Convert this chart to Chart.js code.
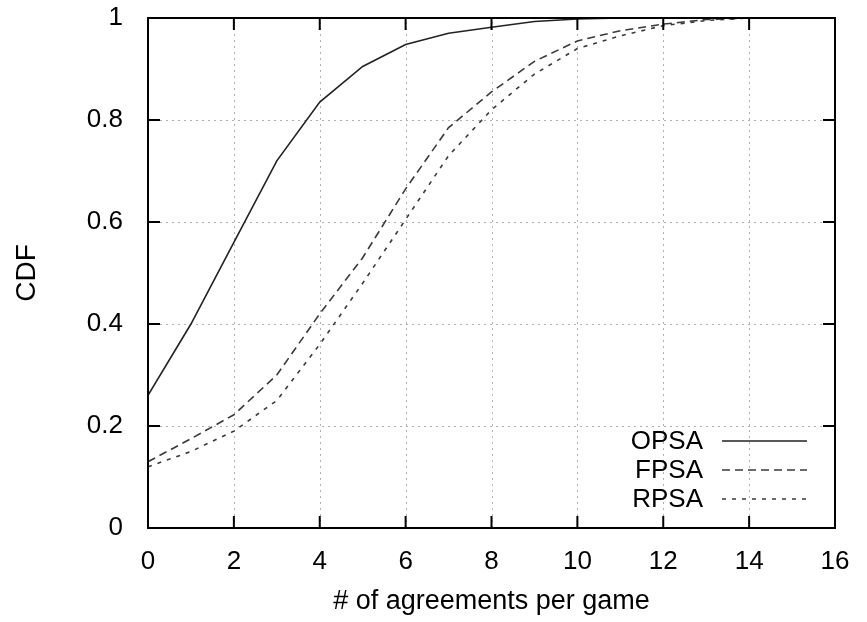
<!DOCTYPE html>
<html>
<head>
<meta charset="utf-8">
<script src="https://cdn.jsdelivr.net/npm/chart.js@4/dist/chart.umd.min.js"></script>
<style>
  html, body { margin: 0; padding: 0; background: #fff; }
  #wrap { width: 867px; height: 622px; }
</style>
</head>
<body>
<div id="wrap"><canvas id="c" width="867" height="622"></canvas></div>
<script>
const agreements = [0, 1, 2, 3, 4, 5, 6, 7, 8, 9, 10, 11, 12, 13, 14, 15, 16];
const opsa = [0.26, 0.40, 0.56, 0.72, 0.835, 0.905, 0.948, 0.970, 0.982, 0.993, 0.998, 1, 1, 1, 1, 1, 1];
const fpsa = [0.13, 0.175, 0.222, 0.30, 0.42, 0.53, 0.665, 0.785, 0.855, 0.915, 0.955, 0.975, 0.988, 0.997, 1, 1, 1];
const rpsa = [0.12, 0.15, 0.19, 0.25, 0.36, 0.48, 0.605, 0.73, 0.82, 0.89, 0.94, 0.965, 0.985, 0.995, 1, 1, 1];
const seriesNames = ['OPSA', 'FPSA', 'RPSA'];
const xTickValues = [0, 2, 4, 6, 8, 10, 12, 14, 16];
const xTickLabels = ['0', '2', '4', '6', '8', '10', '12', '14', '16'];
const yTickValues = [0, 0.2, 0.4, 0.6, 0.8, 1];
const yTickLabels = ['0', '0.2', '0.4', '0.6', '0.8', '1'];
const xTitle = '# of agreements per game';
const yTitle = 'CDF';

const FONT = "'Liberation Sans', Arial, Helvetica, sans-serif";
const toPts = arr => agreements.map((x, i) => ({ x: x, y: arr[i] }));

const styles = [
  { color: '#222222', dash: [] },
  { color: '#3a3a3a', dash: [8, 5] },
  { color: '#3a3a3a', dash: [4, 6] }
];

const dottedGrid = {
  id: 'dottedGrid',
  beforeDatasetsDraw(chart) {
    const { ctx, chartArea: a, scales } = chart;
    ctx.save();
    ctx.strokeStyle = '#b0b0b0';
    ctx.lineWidth = 1;
    ctx.setLineDash([2, 4]);
    ctx.beginPath();
    xTickValues.forEach(v => {
      const px = Math.round(scales.x.getPixelForValue(v)) + 0.5;
      ctx.moveTo(px, a.bottom); ctx.lineTo(px, a.top);
    });
    yTickValues.forEach(v => {
      const py = Math.round(scales.y.getPixelForValue(v)) + 0.5;
      ctx.moveTo(a.left, py); ctx.lineTo(a.right, py);
    });
    ctx.stroke();
    ctx.restore();
  }
};

const frameAndTicks = {
  id: 'frameAndTicks',
  afterDatasetsDraw(chart) {
    const { ctx, chartArea: a, scales } = chart;
    ctx.save();
    ctx.strokeStyle = '#000';
    ctx.lineWidth = 2;
    ctx.setLineDash([]);
    ctx.strokeRect(a.left, a.top, a.right - a.left, a.bottom - a.top);
    const L = 12;
    ctx.beginPath();
    xTickValues.forEach(v => {
      const px = scales.x.getPixelForValue(v);
      ctx.moveTo(px, a.bottom); ctx.lineTo(px, a.bottom - L);
      ctx.moveTo(px, a.top); ctx.lineTo(px, a.top + L);
    });
    yTickValues.forEach(v => {
      const py = scales.y.getPixelForValue(v);
      ctx.moveTo(a.left, py); ctx.lineTo(a.left + L, py);
      ctx.moveTo(a.right, py); ctx.lineTo(a.right - L, py);
    });
    ctx.stroke();
    ctx.restore();
  }
};

const sideLegend = {
  id: 'sideLegend',
  afterDraw(chart) {
    const { ctx } = chart;
    ctx.save();
    ctx.font = '26px ' + FONT;
    ctx.textAlign = 'right';
    ctx.textBaseline = 'middle';
    const textRight = 703, x0 = 722, x1 = 807, yStart = 441, step = 29;
    chart.data.datasets.forEach((ds, i) => {
      const y = yStart + i * step;
      ctx.fillStyle = '#000';
      ctx.fillText(ds.label, textRight, y + 1);
      ctx.beginPath();
      ctx.strokeStyle = ds.borderColor;
      ctx.lineWidth = ds.borderWidth;
      ctx.setLineDash(ds.borderDash || []);
      ctx.moveTo(x0, y); ctx.lineTo(x1, y);
      ctx.stroke();
    });
    ctx.restore();
  }
};

const seriesData = [opsa, fpsa, rpsa];

new Chart(document.getElementById('c'), {
  type: 'line',
  data: {
    datasets: seriesNames.map((name, i) => ({
      label: name,
      data: toPts(seriesData[i]),
      borderColor: styles[i].color,
      borderDash: styles[i].dash,
      borderWidth: 1.6,
      pointRadius: 0,
      fill: false,
      tension: 0
    }))
  },
  options: {
    responsive: false,
    animation: false,
    layout: { padding: { top: 18, right: 32, left: 0, bottom: 0 } },
    plugins: { legend: { display: false }, tooltip: { enabled: false } },
    scales: {
      x: {
        type: 'linear',
        min: 0, max: 16,
        afterFit(s) { s.height = 94; s.paddingLeft = 0; s.paddingRight = 0; },
        afterBuildTicks(s) { s.ticks = xTickValues.map(v => ({ value: v })); },
        ticks: {
          color: '#000', font: { family: FONT, size: 26 }, padding: 10, maxRotation: 0,
          callback: (v) => xTickLabels[xTickValues.indexOf(v)]
        },
        grid: { display: false },
        border: { display: false },
        title: { display: true, text: xTitle, color: '#000', font: { family: FONT, size: 27 }, padding: { top: 0, bottom: 4 } }
      },
      y: {
        min: 0, max: 1,
        afterFit(s) { s.width = 148; s.paddingTop = 0; s.paddingBottom = 0; },
        afterBuildTicks(s) { s.ticks = yTickValues.map(v => ({ value: v })); },
        ticks: {
          color: '#000', font: { family: FONT, size: 26 }, padding: 17,
          callback: (v) => yTickLabels[yTickValues.findIndex(t => Math.abs(t - v) < 1e-9)]
        },
        grid: { display: false },
        border: { display: false },
        title: { display: true, text: yTitle, color: '#000', font: { family: FONT, size: 28 }, padding: { top: 10, bottom: 0 } }
      }
    }
  },
  plugins: [dottedGrid, frameAndTicks, sideLegend]
});
</script>
</body>
</html>
